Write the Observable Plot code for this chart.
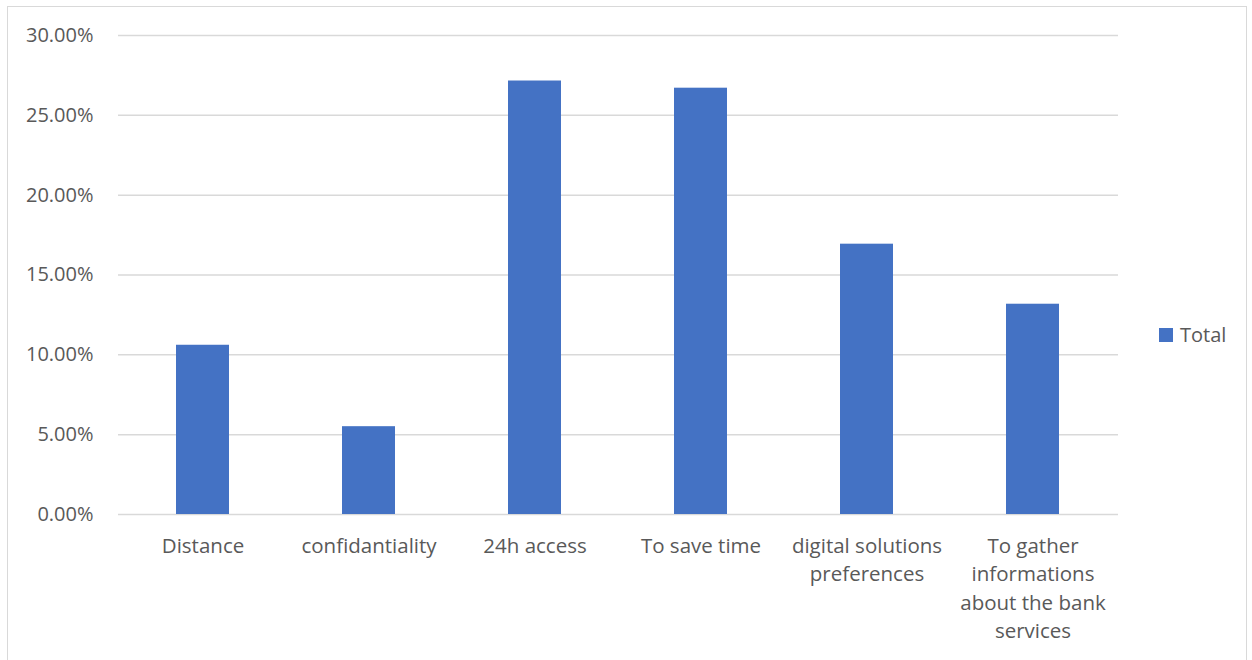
<!DOCTYPE html>
<html>
<head>
<meta charset="utf-8">
<script src="https://cdn.jsdelivr.net/npm/d3@7"></script>
<script src="https://cdn.jsdelivr.net/npm/@observablehq/plot@0.6"></script>
<style>
  html, body { margin: 0; padding: 0; background: #fff; }
  #wrap { position: relative; width: 1252px; height: 660px; overflow: hidden; font-family: "Open Sans", sans-serif; }
  #frame { position: absolute; left: 7px; top: 6px; width: 1240px; height: 700px; border: 1.5px solid #d9d9d9; box-sizing: border-box; pointer-events: none; }
  #legend { position: absolute; left: 1159px; top: 321px; display: flex; align-items: center; font-size: 20px; color: #595959; }
  #legend .sw { width: 14px; height: 14px; background: #4472C4; margin-right: 7px; }
  #chart { position: absolute; left: 0; top: 0; }
</style>
</head>
<body>
<div id="wrap">
  <div id="chart"></div>
  <div id="frame"></div>
  <div id="legend"><div class="sw"></div><span>Total</span></div>
</div>
<script>
const categories = ["Distance", "confidantiality", "24h access", "To save time", "digital solutions preferences", "To gather informations about the bank services"];
const wrappedLabels = ["Distance", "confidantiality", "24h access", "To save time", "digital solutions\npreferences", "To gather\ninformations\nabout the bank\nservices"];
const totals = [0.106, 0.055, 0.2715, 0.267, 0.1693, 0.1317];
const yTicks = [0, 0.05, 0.10, 0.15, 0.20, 0.25, 0.30];

const data = categories.map((c, i) => ({category: c, value: totals[i]}));
const labelOf = new Map(categories.map((c, i) => [c, wrappedLabels[i]]));

const chart = Plot.plot({
  width: 1252,
  height: 660,
  marginLeft: 118,
  marginRight: 134,
  marginTop: 35,
  marginBottom: 146,
  style: {fontFamily: "Open Sans, sans-serif", background: "transparent", color: "#595959"},
  x: {domain: categories, paddingInner: 0.68, paddingOuter: 0.34, align: 0.5, label: null},
  y: {domain: [0, 0.30], label: null},
  marks: [
    Plot.ruleY(yTicks, {stroke: "#d9d9d9", strokeWidth: 1.5}),
    Plot.barY(data, {x: "category", y: "value", fill: "#4472C4"}),
    Plot.axisY({ticks: yTicks, tickFormat: d3.format(".2%"), tickSize: 0, tickPadding: 25, fontSize: 20, fill: "#595959", label: null}),
    Plot.axisX({tickSize: 0, tickPadding: 18, tickFormat: d => labelOf.get(d), fontSize: 20.5, lineHeight: 1.39, fill: "#595959", label: null})
  ]
});
document.getElementById("chart").appendChild(chart);
</script>
</body>
</html>
